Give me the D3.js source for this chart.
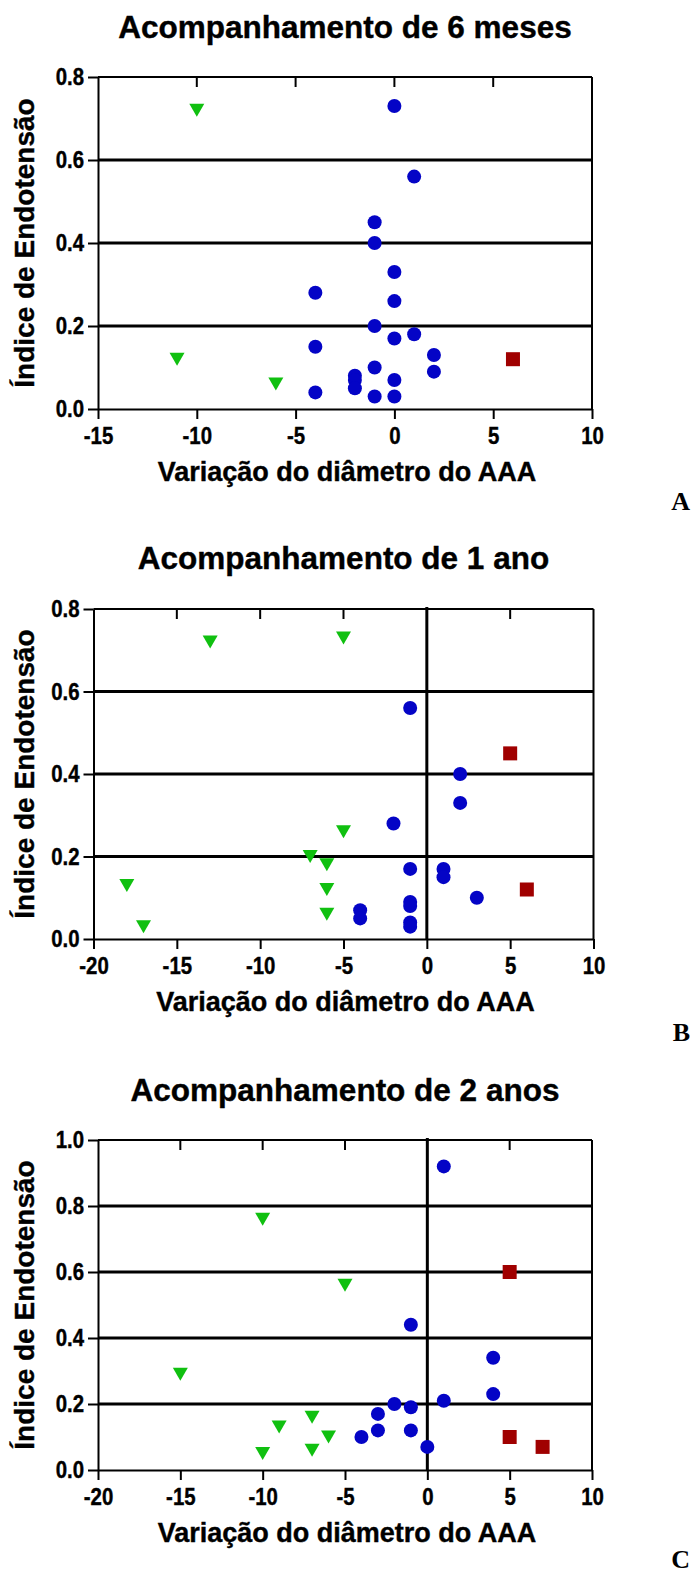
<!DOCTYPE html>
<html><head><meta charset="utf-8">
<script src="https://cdn.jsdelivr.net/npm/d3@7"></script>
<style>body{margin:0;background:#fff}svg{display:block}</style>
</head><body>
<svg id="chart" width="693" height="1575"></svg>
<script>
// ---------- data ----------
const titles = ["Acompanhamento de 6 meses", "Acompanhamento de 1 ano", "Acompanhamento de 2 anos"];
const letters = ["A", "B", "C"];
const xAxisTitle = "Variação do diâmetro do AAA";
const yAxisTitle = "Índice de Endotensão";

const xTicksA = [-15, -10, -5, 0, 5, 10];
const xTicksBC = [-20, -15, -10, -5, 0, 5, 10];
const yTicksAB = [0, 0.2, 0.4, 0.6, 0.8];
const yTicksC = [0, 0.2, 0.4, 0.6, 0.8, 1.0];
const gridAB = [0.2, 0.4, 0.6];
const gridC = [0.2, 0.4, 0.6, 0.8];

// Panel A – 6 months
const circlesA = [[0,0.73],[1,0.56],[-1,0.45],[-1,0.40],[0,0.33],[-4,0.28],[0,0.26],[-1,0.20],[1,0.18],[0,0.17],
  [-4,0.15],[2,0.13],[-1,0.10],[2,0.09],[-2,0.08],[-2,0.07],[0,0.07],[-2,0.05],[-4,0.04],[-1,0.03],[0,0.03]];
const trianglesA = [[-10,0.72],[-11,0.12],[-6,0.06]];
const squaresA = [[6,0.12]];

// Panel B – 1 year
const circlesB = [[-1,0.56],[2,0.40],[2,0.33],[-2,0.28],[-1,0.17],[1,0.17],[1,0.15],[3,0.10],[-1,0.09],[-1,0.08],
  [-4,0.07],[-4,0.05],[-1,0.04],[-1,0.03]];
const trianglesB = [[-13,0.72],[-5,0.73],[-5,0.26],[-7,0.20],[-6,0.18],[-18,0.13],[-6,0.12],[-6,0.06],[-17,0.03]];
const squaresB = [[5,0.45],[6,0.12]];

// Panel C – 2 years
const circlesC = [[1,0.92],[-1,0.44],[4,0.34],[4,0.23],[1,0.21],[-2,0.20],[-1,0.19],[-3,0.17],[-3,0.12],[-1,0.12],
  [-4,0.10],[0,0.07]];
const trianglesC = [[-10,0.76],[-5,0.56],[-15,0.29],[-7,0.16],[-9,0.13],[-6,0.10],[-7,0.06],[-10,0.05]];
const squaresC = [[5,0.60],[5,0.10],[7,0.07]];

// ---------- layout ----------
const panels = [
  {title: titles[0], letter: letters[0], left: 98, right: 592, top: 77, bottom: 409, xd: [-15, 10], yd: [0, 0.8],
   xt: xTicksA, yt: yTicksAB, grid: gridAB, zero: false, titleY: 38, letterY: 510,
   circles: circlesA, triangles: trianglesA, squares: squaresA},
  {title: titles[1], letter: letters[1], left: 93.5, right: 593.5, top: 609, bottom: 939, xd: [-20, 10], yd: [0, 0.8],
   xt: xTicksBC, yt: yTicksAB, grid: gridAB, zero: true, titleY: 569, letterY: 1041,
   circles: circlesB, triangles: trianglesB, squares: squaresB},
  {title: titles[2], letter: letters[2], left: 98, right: 592, top: 1140, bottom: 1470, xd: [-20, 10], yd: [0, 1.0],
   xt: xTicksBC, yt: yTicksC, grid: gridC, zero: true, titleY: 1101, letterY: 1568,
   circles: circlesC, triangles: trianglesC, squares: squaresC}
];

const FONT = "'Liberation Sans', Arial, Helvetica, sans-serif";
const SERIF = "'Liberation Serif', 'Times New Roman', serif";
const BLUE = "#0404c6", GREEN = "#10c010", RED = "#a00000";
const TICK_FS = 24, TICK_SX = 0.85;

const svg = d3.select("#chart");

function heavy(sel) {
  return sel.attr("fill", "#000").attr("stroke", "#000").attr("stroke-width", 0.4);
}

panels.forEach(p => {
  const g = svg.append("g");
  const x = d3.scaleLinear().domain(p.xd).range([p.left, p.right]);
  const y = d3.scaleLinear().domain(p.yd).range([p.bottom, p.top]);
  const cx = (p.left + p.right) / 2;

  // title
  heavy(g.append("text").attr("x", cx).attr("y", p.titleY).attr("text-anchor", "middle")
    .style("font-family", FONT).style("font-weight", "bold").style("font-size", "31.5px").text(p.title));

  // grid lines
  g.selectAll(".grid").data(p.grid).join("line")
    .attr("x1", p.left).attr("x2", p.right).attr("y1", d => y(d)).attr("y2", d => y(d))
    .attr("stroke", "#000").attr("stroke-width", 3);

  // zero line
  if (p.zero) {
    g.append("line").attr("x1", x(0)).attr("x2", x(0)).attr("y1", p.top - 2).attr("y2", p.bottom)
      .attr("stroke", "#000").attr("stroke-width", 3);
  }

  // top border with inner ticks
  g.append("line").attr("x1", p.left).attr("x2", p.right).attr("y1", p.top).attr("y2", p.top)
    .attr("stroke", "#000").attr("stroke-width", 2);
  const inner = p.xt.filter(v => v !== p.xd[0] && v !== p.xd[1] && !(p.zero && v === 0));
  g.selectAll(".tt").data(inner).join("line")
    .attr("x1", d => x(d)).attr("x2", d => x(d)).attr("y1", p.top).attr("y2", p.top + 10)
    .attr("stroke", "#000").attr("stroke-width", 2);
  // right border
  g.append("line").attr("x1", p.right).attr("x2", p.right).attr("y1", p.top).attr("y2", p.bottom)
    .attr("stroke", "#000").attr("stroke-width", 2);

  // axes
  const xa = g.append("g").attr("transform", `translate(0,${p.bottom})`)
    .call(d3.axisBottom(x).tickValues(p.xt).tickSize(10).tickSizeOuter(0).tickPadding(8).tickFormat(d3.format("d")));
  const ya = g.append("g").attr("transform", `translate(${p.left},0)`)
    .call(d3.axisLeft(y).tickValues(p.yt).tickSize(10).tickSizeOuter(0).tickPadding(4).tickFormat(d3.format(".1f")));
  [xa, ya].forEach(a => {
    a.select(".domain").attr("stroke", "#000").attr("stroke-width", 2);
    a.selectAll(".tick line").attr("stroke", "#000").attr("stroke-width", 2);
    heavy(a.selectAll(".tick text")).style("font-family", FONT)
      .style("font-weight", "bold").style("font-size", TICK_FS + "px")
      .attr("transform", `scale(${TICK_SX},1)`);
  });
  xa.selectAll(".tick text").text(d => d < 0 ? "-" + Math.abs(d) : String(d));
  ya.selectAll(".tick text").attr("x", -14 / TICK_SX);

  // axis titles
  heavy(g.append("text").attr("x", cx + 2).attr("y", p.bottom + 72).attr("text-anchor", "middle")
    .style("font-family", FONT).style("font-weight", "bold").style("font-size", "27px").text(xAxisTitle));
  heavy(g.append("text").attr("transform", `translate(34,${(p.top + p.bottom) / 2}) rotate(-90)`)
    .attr("text-anchor", "middle")
    .style("font-family", FONT).style("font-weight", "bold").style("font-size", "28px").text(yAxisTitle));

  // panel letter
  g.append("text").attr("x", 690).attr("y", p.letterY).attr("text-anchor", "end")
    .style("font-family", SERIF).style("font-weight", "bold").style("font-size", "26px").text(p.letter);

  // markers
  g.selectAll(".tri").data(p.triangles).join("path")
    .attr("transform", d => `translate(${x(d[0])},${y(d[1])})`)
    .attr("d", "M-7.5,-6.5L7.5,-6.5L0,6.5Z").attr("fill", GREEN);
  g.selectAll(".sq").data(p.squares).join("rect")
    .attr("x", d => x(d[0]) - 7).attr("y", d => y(d[1]) - 7).attr("width", 14).attr("height", 14)
    .attr("fill", RED);
  g.selectAll(".ci").data(p.circles).join("circle")
    .attr("cx", d => x(d[0])).attr("cy", d => y(d[1])).attr("r", 7).attr("fill", BLUE);
});
</script>
</body></html>
